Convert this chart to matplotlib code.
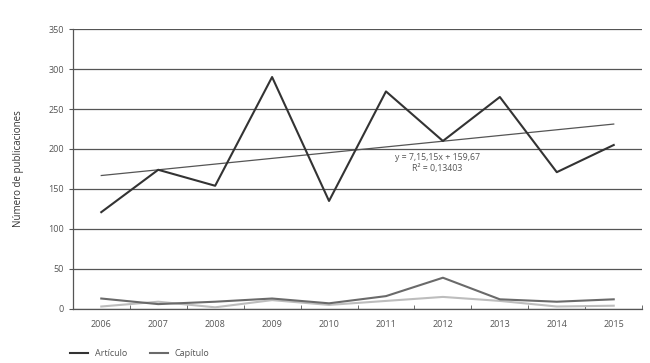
import matplotlib.pyplot as plt
import numpy as np

years = ["2006", "2007", "2008", "2009", "2010", "2011", "2012", "2013", "2014", "2015"]
articulo = [121, 174, 154, 290, 135, 272, 210, 265, 171, 205]
capitulo = [13, 6, 9, 13, 7, 16, 39, 12, 9, 12]
otros = [3, 9, 2, 11, 5, 10, 15, 10, 3, 4]
trend_slope = 7.15
trend_intercept = 159.67

plt.rcParams["font.family"] = ["Open Sans", "DejaVu Sans"]

fig = plt.figure(figsize=(6.5, 3.63), dpi=100)
ax = fig.add_axes([0.112, 0.149, 0.876, 0.771])

x = np.arange(len(years))
ax.plot(x, articulo, color="#333333", lw=1.5, label="Artículo", zorder=4)
ax.plot(x, capitulo, color="#6a6a6a", lw=1.5, label="Capítulo", zorder=4)
ax.plot(x, otros, color="#bdbdbd", lw=1.5, zorder=3)

# línea de tendencia de Artículo
trend = trend_intercept + trend_slope * (x + 1)
ax.plot(x, trend, color="#555555", lw=0.9, zorder=3)
ax.text(5.9, 189, "y = 7,15,15x + 159,67", ha="center", va="center",
        fontsize=6.3, color="#555555")
ax.text(5.9, 176, "R² = 0,13403", ha="center", va="center",
        fontsize=6.3, color="#555555")

ax.set_xlim(-0.5, 9.5)
ax.set_ylim(0, 350)
ax.set_yticks(np.arange(0, 351, 50))
ax.yaxis.grid(True, color="#555555", lw=0.9)
ax.set_axisbelow(True)

ax.set_xticks(x)
ax.set_xticklabels(years)
ax.set_xticks(np.arange(-0.5, 10, 1), minor=True)
ax.tick_params(axis="x", which="major", length=0, pad=8, labelsize=6.5,
               labelcolor="#555555")
ax.tick_params(axis="x", which="minor", length=3, color="#555555", direction="in")
ax.tick_params(axis="y", length=3, color="#555555", labelsize=6.5,
               labelcolor="#555555")

for side in ["top", "right"]:
    ax.spines[side].set_visible(False)
for side in ["left", "bottom"]:
    ax.spines[side].set_color("#555555")
    ax.spines[side].set_linewidth(0.9)

ax.set_ylabel("Número de publicaciones", fontsize=7, color="#333333", labelpad=17)

ax.legend(loc="upper left", bbox_to_anchor=(-0.02, -0.115), ncol=2, frameon=False,
          fontsize=6.5, handlelength=2, columnspacing=2.5, labelcolor="#555555")

fig.savefig("out.png", dpi=100)
